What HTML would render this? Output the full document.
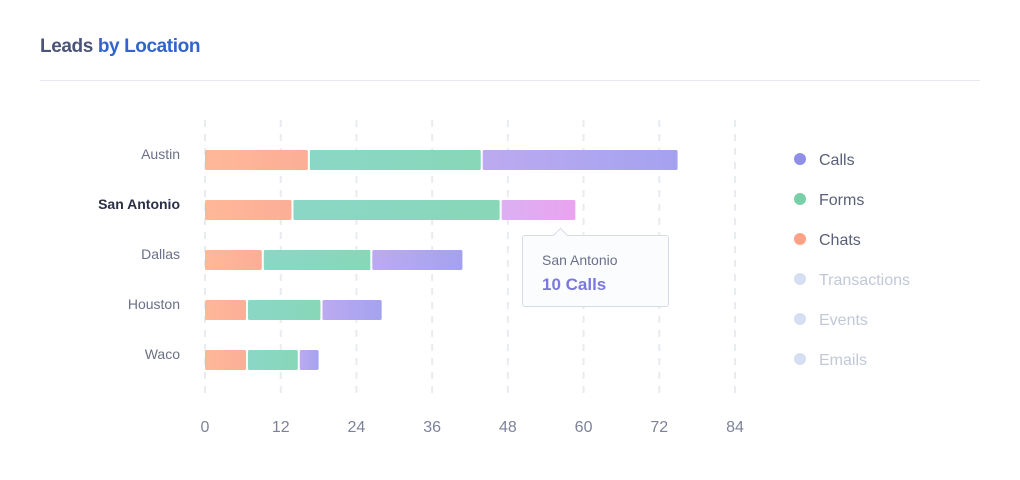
<!DOCTYPE html>
<html><head><meta charset="utf-8"><style>
body{margin:0;width:1020px;height:480px;background:#fff;font-family:"Liberation Sans",sans-serif;overflow:hidden;position:relative}
</style></head><body>
<div style="position:absolute;left:40px;top:36px;font-size:19px;font-weight:bold;letter-spacing:-0.4px"><span style="color:#4b5577">Leads</span> <span style="color:#3164cc">by Location</span></div>
<div style="position:absolute;left:40px;top:80px;width:940px;height:1px;background:#e6e9ef"></div>
<svg id="chart" width="1020" height="480" style="position:absolute;left:0;top:0">
<defs>
<linearGradient id="gChats"><stop offset="0" stop-color="#feb898"/><stop offset="1" stop-color="#fcae97"/></linearGradient>
<linearGradient id="gForms"><stop offset="0" stop-color="#8ad7c6"/><stop offset="1" stop-color="#88d7b8"/></linearGradient>
<linearGradient id="gCalls"><stop offset="0" stop-color="#bcaaf0"/><stop offset="1" stop-color="#a4a2ef"/></linearGradient>
<linearGradient id="gCallsHi"><stop offset="0" stop-color="#dbb0f3"/><stop offset="1" stop-color="#e9a3ef"/></linearGradient>
</defs>
</svg>
<div style="position:absolute;left:522px;top:235px;width:147px;height:72px;border:1px solid #d6dbe6;border-radius:3px;background:#fbfcfe;box-sizing:border-box">
<div style="position:absolute;left:32px;top:-6px;width:10px;height:10px;background:#fbfcfe;border-left:1px solid #d6dbe6;border-top:1px solid #d6dbe6;transform:rotate(45deg)"></div>
<div style="position:absolute;left:19px;top:16px;font-size:14px;color:#6b7088">San Antonio</div>
<div style="position:absolute;left:19px;top:39px;font-size:17px;font-weight:bold;color:#7b78dc">10 Calls</div>
</div>
<script>
const categories=["Austin","San Antonio","Dallas","Houston","Waco"];
const chats=[16.3,13.7,9,6.5,6.5];
const forms=[27.4,33,17.2,11.8,8.2];
const calls=[31.2,12,14.6,9.7,3.3];
const ticks=[0,12,24,36,48,60,72,84];
const legendNames=["Calls","Forms","Chats","Transactions","Events","Emails"];
const legendColors=["#8f8fe9","#77d0a7","#fca185","#d6def2","#d6def2","#d6def2"];
const legendText=["#5b6079","#5b6079","#5b6079","#c1c8d7","#c1c8d7","#c1c8d7"];
const highlighted=1;
const svg=document.getElementById('chart');
const NS='http://www.w3.org/2000/svg';
const x=v=>205+v*(530/84);
const y=i=>160+i*50;
function mk(t,a){const e=document.createElementNS(NS,t);for(const k in a)e.setAttribute(k,a[k]);svg.appendChild(e);return e;}
ticks.forEach(t=>{
 const g=mk('line',{x1:x(t),x2:x(t),y1:120,y2:396,stroke:'#e8ebf0','stroke-width':2,'stroke-dasharray':'7,7'});
 
 
 const l=mk('text',{x:x(t),y:432,'text-anchor':'middle','font-size':16,fill:'#7d8299'});
 l.textContent=t;
 
 
});
categories.forEach((c,i)=>{
 const l=mk('text',{x:180,y:y(i)-1,'text-anchor':'end','font-size':14,fill:i===highlighted?'#2a2f45':'#6b7088','font-weight':i===highlighted?'bold':'normal'});
 l.textContent=c;
 
 
 const segs=[[chats[i],'url(#gChats)','bar-chats'],[forms[i],'url(#gForms)','bar-forms'],[calls[i],i===highlighted?'url(#gCallsHi)':'url(#gCalls)','bar-calls']];
 let acc=0;
 segs.forEach((s,j)=>{
  const x0=x(acc)+(j?2:0),x1=x(acc+s[0]);
  const r=mk('rect',{x:x0,y:y(i)-10,width:Math.max(0,x1-x0),height:20,rx:1.5,fill:s[1]});
  
  
  acc+=s[0];
 });
});
legendNames.forEach((n,i)=>{
 const cy=159+i*40;
 const d=mk('circle',{cx:800,cy:cy,r:6,fill:legendColors[i]});
 
 
 const t=mk('text',{x:819,y:cy+6,'font-size':16,fill:legendText[i]});
 t.textContent=n;
 
 
});
</script>
</body></html>
